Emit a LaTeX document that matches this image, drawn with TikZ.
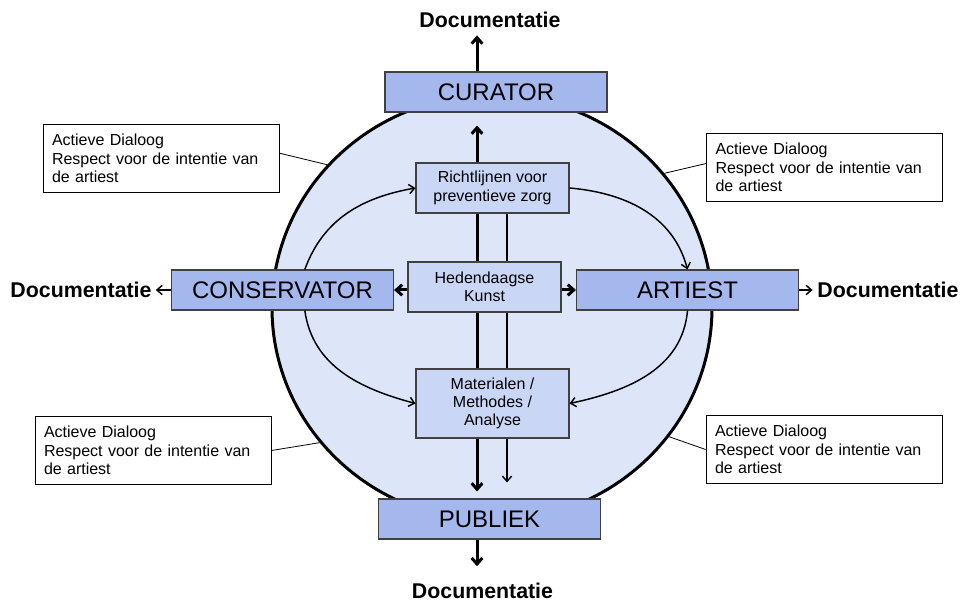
\documentclass[tikz,border=0pt]{standalone}
\usepackage{fontspec}
\setmainfont{Liberation Sans}
\usetikzlibrary{shapes.geometric,arrows.meta,calc,backgrounds}

\definecolor{rolefill}{RGB}{164,184,238}
\definecolor{taskfill}{RGB}{201,214,246}
\definecolor{discfill}{RGB}{221,229,248}
\definecolor{boxline}{RGB}{64,64,64}

\tikzset{
	role/.style={draw=boxline, line width=0.8pt, fill=rolefill, minimum width=166.5pt, minimum height=30pt, inner sep=0pt, font=\fontsize{18}{20}\selectfont},
	task/.style={draw=boxline, line width=0.8pt, fill=taskfill, minimum width=114.75pt, inner sep=0pt, align=center, font=\fontsize{12}{13.75}\selectfont},
	note/.style={draw, line width=0.6pt, fill=white, text width=163.5pt, inner xsep=6.75pt, minimum height=51pt, align=left, font=\fontsize{12}{14}\selectfont},
	doc/.style={font=\fontsize{16}{18}\selectfont\bfseries, inner sep=2pt},
	heavy/.style={line width=2.25pt, >={Straight Barb[length=4.5pt,width=8pt]}, ->},
	light/.style={line width=1.1pt, >={Straight Barb[length=4pt,width=7pt]}, ->},
}

\begin{document}
\begin{tikzpicture}[x=0.75pt,y=0.75pt]
	\useasboundingbox (0,0) rectangle (962,603);
	\begin{scope}[on background layer]
		\node[draw, ellipse, line width=2.25pt, fill=discfill, minimum width=330pt, minimum height=319.5pt, inner sep=0pt] (disc) at (492,295) {};
	\end{scope}

	\node[role] (cur) at (496,511) {CURATOR};
	\node[role] (cons) at (282.5,313) {CONSERVATOR};
	\node[role] (art) at (687.5,313) {ARTIEST};
	\node[role] (pub) at (489.5,84) {PUBLIEK};

	\node[task, minimum height=37.5pt] (richt) at (492.5,415) {Richtlijnen voor\\preventieve zorg};
	\node[task, minimum height=37.5pt] (hed) at (484.5,316) {Hedendaagse\\Kunst};
	\node[task, minimum height=51.75pt] (mat) at (492.5,199.5) {Materialen /\\Methodes /\\Analyse};

	\node[doc] (doct) at (490,583) {Documentatie};
	\node[doc] (docb) at (482.5,12) {Documentatie};
	\node[doc] (docl) at (81,313) {Documentatie};
	\node[doc] (docr) at (888,313) {Documentatie};

	\node[note] (tl) at (161,444.5) {Actieve Dialoog\\Respect voor de intentie van\\de artiest};
	\node[note] (tr) at (824.5,435.5) {Actieve Dialoog\\Respect voor de intentie van\\de artiest};
	\node[note] (bl) at (153,152.5) {Actieve Dialoog\\Respect voor de intentie van\\de artiest};
	\node[note] (br) at (824,153.5) {Actieve Dialoog\\Respect voor de intentie van\\de artiest};

	\coordinate (spine) at (477,0);
	\coordinate (rail) at (507,0);
	\begin{scope}[on background layer]
		\draw[heavy, <->, shorten <=5.25pt, shorten >=9.75pt] (pub.north -| spine) -- (cur.south -| spine);
		\draw[light, shorten >=12pt] (richt.south -| rail) -- (pub.north -| rail);
	\end{scope}

	\draw[heavy] (hed.west |- cons.east) -- (cons.east);
	\draw[heavy] (hed.east |- art.west) -- (art.west);
	\draw[heavy, shorten >=3.5pt] (cur.north -| spine) -- (doct.south -| spine);
	\draw[heavy, shorten >=10.5pt] (pub.south -| spine) -- (docb.north -| spine);
	\draw[light, shorten >=1pt] (cons.west) -- (docl.east);
	\draw[light, shorten >=1.5pt] (art.east) -- (docr.west);

	\draw[light] ($(cons.north west)!.6!(cons.north east)$) to[out=70, in=190] (richt.west);
	\draw[light] (richt.east) to[out=-5, in=105] (art.north);
	\draw[light] (art.south) to[out=-95, in=12] (mat.east);
	\draw[light] ($(cons.south west)!.6!(cons.south east)$) to[out=-82, in=165] (mat.west);

	\draw[line width=0.6pt] ([yshift=4pt]tl.east) -- (disc.139.5);
	\draw[line width=0.6pt] ([yshift=3pt]tr.west) -- (disc.38);
	\draw[line width=0.6pt] (bl.east) -- (disc.218);
	\draw[line width=0.6pt] (br.west) -- (disc.324);
\end{tikzpicture}
\end{document}
